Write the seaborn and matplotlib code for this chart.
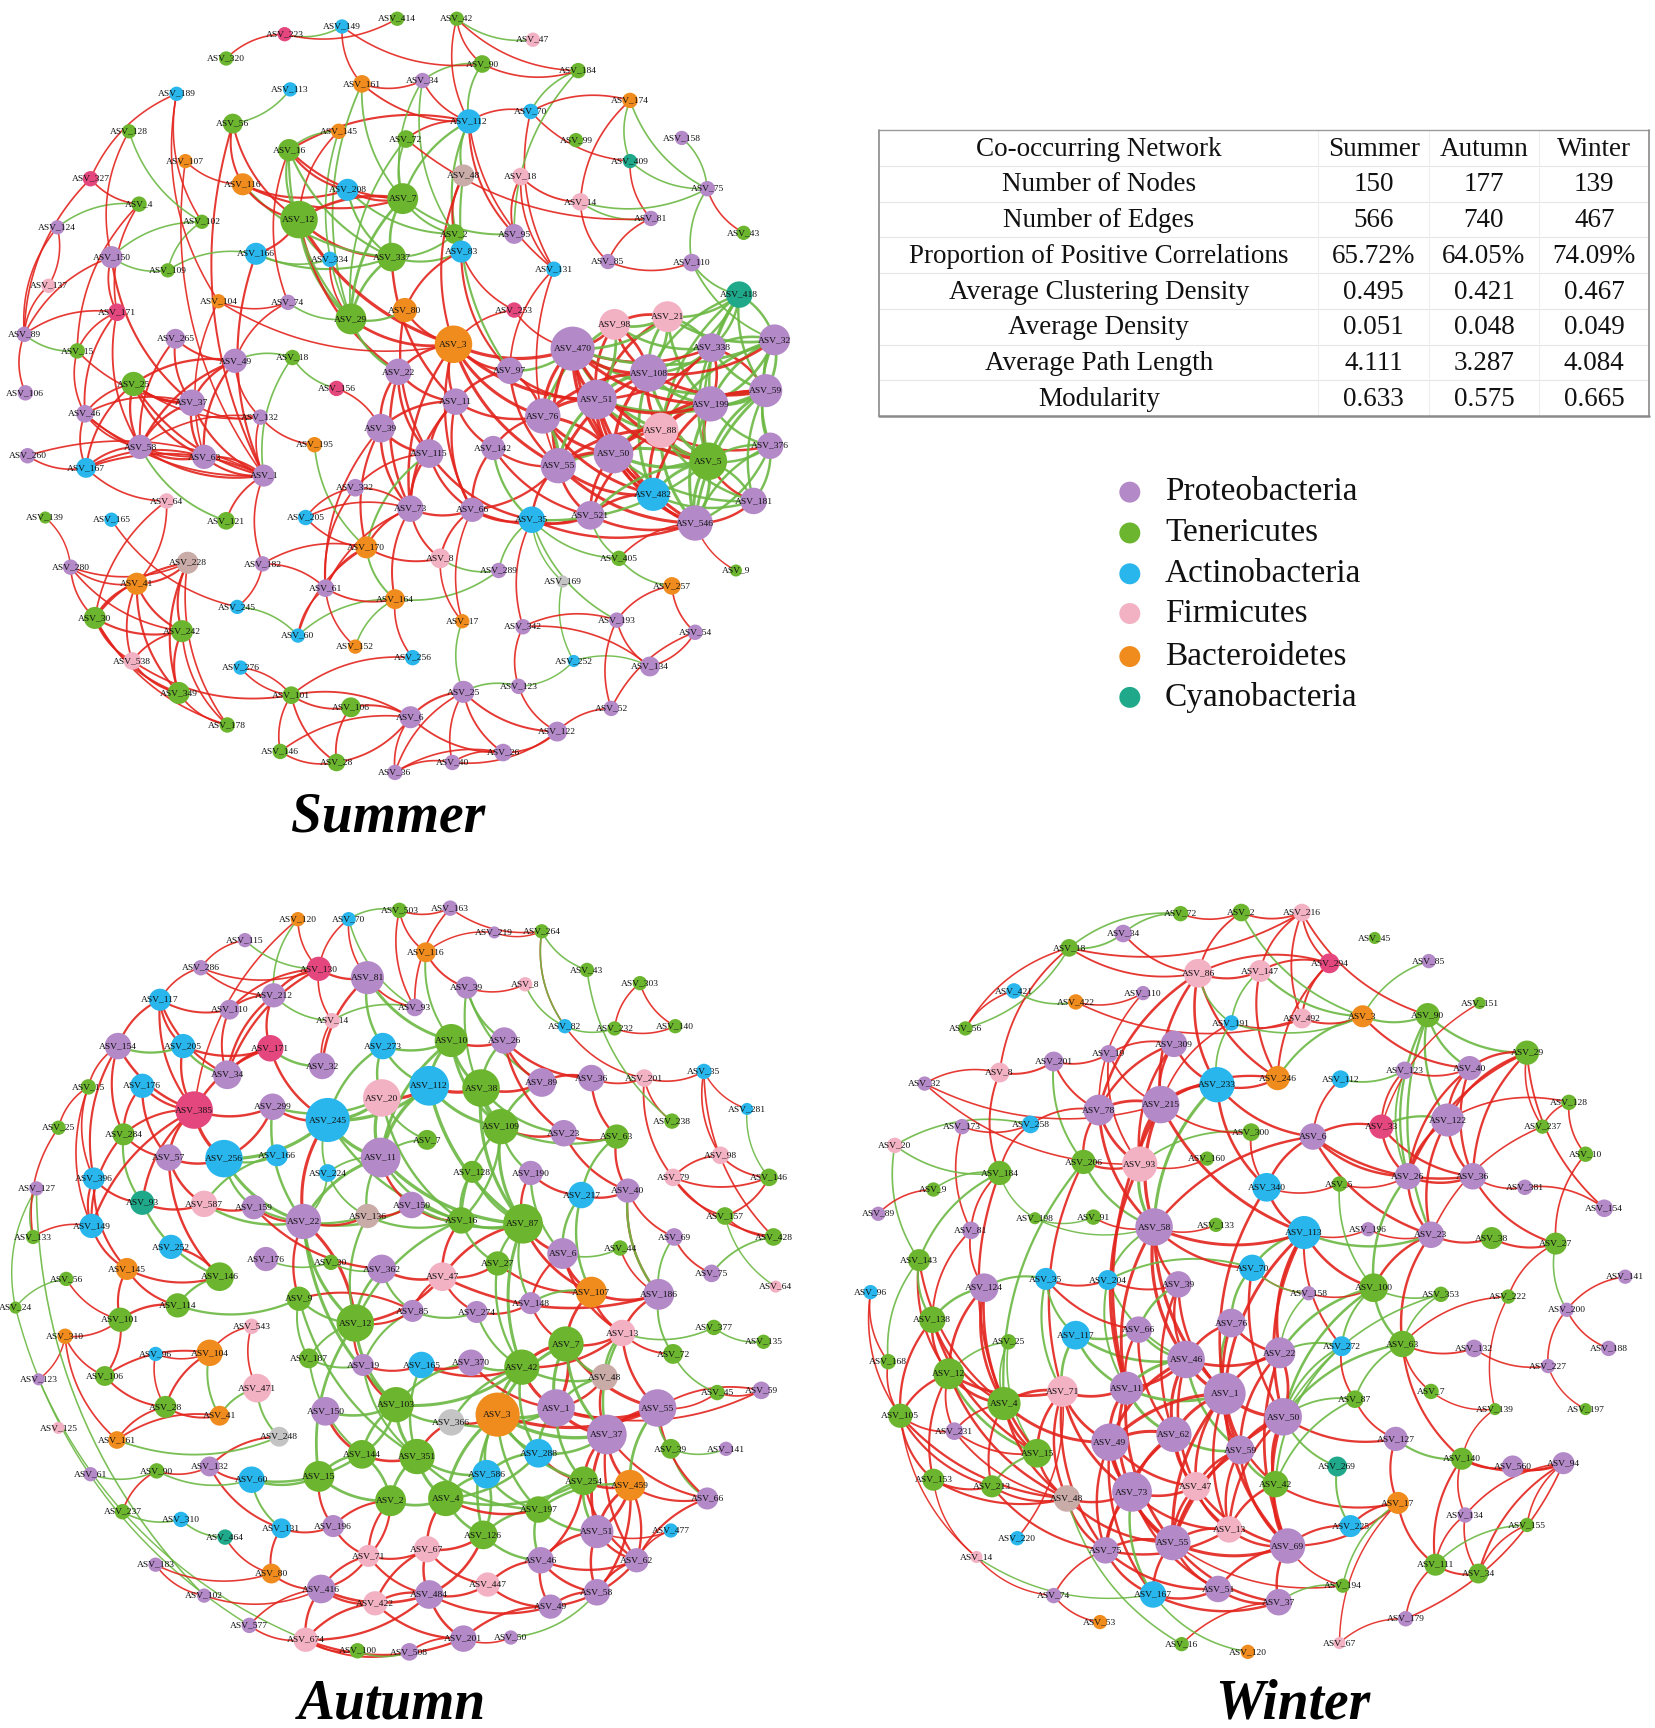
import numpy as np
import pandas as pd
import matplotlib
matplotlib.use("Agg")
import matplotlib.pyplot as plt
import seaborn as sns
from matplotlib.collections import LineCollection

sns.set_theme(style="white")
plt.rcParams['font.family'] = ['Liberation Serif', 'DejaVu Serif']

# ---------------- Summer network ----------------
SUMMER_ID = [
"414","42","223","149","47","320","90","184","113","161",
"34","189","174","70","112","56","128","145","72","99",
"158","107","16","409","327","116","48","18","208","7",
"75","4","14","12","102","81","124","2","95","43",
"166","337","334","83","150","109","131","85","110","137",
"418","104","74","171","29","80","253","98","21","89",
"265","15","3","470","338","32","49","18b","108","25",
"22","97","156","51","199","59","11","37","106","46",
"132","76","88","39","58","63","195","115","142","50",
"376","5","260","167","1","55","332","482","181","64",
"73","66","35","521","546","139","165","121","205","170",
"8","280","228","41","182","289","169","405","257","9",
"61","164","245","30","242","17","193","342","54","60",
"152","538","256","252","134","276","123","349","101","106b",
"25b","52","6","178","122","146","26","28","40","36"]
SUMMER_X = [
360,414,258,310,483,205,437,524,263,328,
383,160,571,481,425,211,117,307,368,522,
618,168,262,571,82,220,420,472,315,365,
641,126,526,271,183,590,52,412,466,674,
232,355,299,418,101,152,502,551,627,44,
670,198,261,106,318,367,466,557,605,22,
159,70,411,519,645,702,213,265,588,121,
361,462,305,541,644,694,413,174,23,77,
236,492,599,345,127,185,285,389,447,556,
698,642,25,78,239,506,322,592,683,151,
372,428,482,535,630,41,101,205,277,332,
399,64,170,124,238,452,510,561,609,667,
295,358,215,86,165,419,559,474,630,270,
322,120,374,520,589,218,470,162,264,318,
420,554,372,206,505,254,456,305,410,358]
SUMMER_Y = [
17,17,31,24,36,53,58,64,81,76,
73,85,91,101,110,112,119,119,126,127,
125,146,136,146,162,167,159,160,172,180,
171,185,183,199,201,198,206,212,212,211,
230,233,235,228,233,245,244,237,238,259,
267,273,274,283,289,281,281,294,287,303,
307,318,312,316,315,308,327,324,338,348,
337,336,352,362,366,354,364,365,356,375,
378,377,390,388,405,414,403,411,406,411,
404,418,413,424,431,422,442,448,454,454,
461,462,471,467,474,469,471,472,469,496,
506,514,510,529,511,517,527,506,531,517,
533,543,550,560,572,563,562,568,573,576,
586,599,596,599,604,605,622,628,630,641,
627,642,650,657,663,681,682,691,691,700]
SUMMER_PHYLUM = [
"T","T","M","A","F","T","T","T","A","B",
"P","A","B","A","A","T","T","B","T","T",
"P","B","T","C","M","B","R","F","A","T",
"P","T","F","T","T","P","P","T","P","T",
"A","T","A","A","P","T","A","P","P","F",
"C","B","P","M","T","B","M","F","F","P",
"P","T","B","P","P","P","P","T","P","T",
"P","P","M","P","P","P","P","P","P","P",
"P","P","F","P","P","P","B","P","P","P",
"P","T","P","A","P","P","P","A","P","F",
"P","P","A","P","P","T","A","T","A","B",
"F","P","R","B","P","P","G","T","B","T",
"P","B","A","T","T","B","P","P","P","A",
"B","F","A","A","P","A","P","T","T","T",
"P","P","P","T","P","T","P","T","P","P"]
SUMMER_SIZE = [
13,13,13,13,13,13,16,14,13,16,
14,13,14,14,22,18,13,14,16,13,
13,13,20,13,14,20,20,16,20,28,
14,14,16,34,13,14,13,18,18,13,
20,26,14,20,20,13,14,14,16,13,
24,13,14,16,28,22,14,28,28,14,
18,14,34,40,26,28,22,14,34,22,
24,24,14,36,32,30,24,24,14,16,
14,32,32,26,22,22,14,26,22,36,
24,34,14,18,20,32,16,30,24,14,
24,22,24,26,32,11,13,16,14,20,
18,14,20,20,14,14,11,14,16,11,
16,18,13,20,20,13,14,14,14,13,
13,16,14,11,18,13,14,20,16,18,
20,14,20,14,18,14,16,16,14,14]
SUMMER_POS_EDGES = """
223-414 223-320 149-161 149-90 42-90 42-184 42-112 90-184 161-34 161-112 34-112 174-70 174-14
70-112 70-409 70-131 112-72 112-16 112-95 112-131 56-12 56-116 56-1 189-327 189-104 189-102
128-150 107-1 107-116 327-4 327-89 116-12 116-208 116-7 145-12 16-208 16-7 16-74 72-81 208-7
7-12 48-2 48-3 18-14 18-95 18-131 14-85 409-81 75-43 81-85 85-110 4-15 4-171 150-89 150-171
150-37 137-89 137-124 124-89 166-12 166-1 12-337 12-3 12-22 337-11 334-29 83-253 83-97 83-80
131-55 131-97 104-3 104-74 104-63 74-49 171-15 171-46 171-89 29-3 80-3 80-115 253-3 253-470
89-106 265-49 265-37 15-46 49-25 49-37 49-132 25-46 25-37 25-58 25-63 25-1 25-167 37-58 37-63
37-1 37-132 46-58 46-167 46-1 46-63 58-1 63-1 58-63 132-1 132-195 1-260 260-167 167-64 1-121
1-182 3-470 3-22 3-11 3-97 3-73 3-66 3-76 22-11 22-39 11-39 11-115 11-73 11-142 39-115 39-73
39-156 115-73 115-332 142-66 142-55 73-66 73-170 73-61 73-205 73-332 66-35 66-8 66-521 35-521
35-546 35-342 170-8 170-182 170-61 8-17 61-164 61-60 61-182 164-256 205-170 332-61
470-108 470-51 470-50 470-55 470-76 470-98 470-338 470-199 108-88 108-59 108-32 108-50 108-98
51-50 51-199 51-5 51-76 51-482 199-338 199-88 199-5 59-88 59-338 88-50 88-482 88-376 50-55
50-482 50-521 50-76 5-181 55-482 55-521 55-35 482-546 482-521 546-181 546-9 546-405 21-98
76-97 76-142 257-193 257-54 193-134 193-342 193-52 134-54 134-342 54-52 342-123 123-122
25b-6 25b-26 25b-122 25b-40 25b-36 6-101 6-106b 6-26 6-36 6-146 26-40 26-122 26-36 40-36
40-122 101-106b 101-146 101-28 101-276 106b-28 146-28 28-6 256-101 276-101 245-182 280-41
280-30 280-242 280-228 280-139 41-228 41-30 41-242 41-349 41-538 41-64 228-30 228-242 228-178
228-349 30-242 30-538 30-349 30-178 242-349 242-538 242-178 538-349 349-178 538-101 64-30
165-245 52-122
470-5 470-482 108-55 108-76 51-338 51-546 199-482 59-50 88-55 88-521 50-546 338-88 98-108
98-51 21-51 76-482 76-50 55-546 521-546 97-51 97-55 97-11 25-132 58-167 63-167 1-167 132-58
49-63 49-58 265-58 15-37 39-170 115-66 73-8 11-66 22-115 332-205 170-60 61-152 73-164 66-17
3-55 3-51 22-73 39-61 115-35 142-521 11-76 66-55 37-46 1-63 25-37 171-58
"""
SUMMER_NEG_EDGES = """
223~149 42~47 90~34 90~112 161~7 161~29 34~7 34~2 184~70 184~95 174~409 174~75 112~48 112~83
112~7 56~113 128~102 116~337 145~16 145~29 16~12 16~337 16~29 72~7 72~29 208~337 208~2 7~29
7~2 7~337 7~95 48~97 14~75 14~81 409~75 75~110 75~158 110~418 110~32 4~124 102~109 102~150
150~109 166~334 166~337 166~109 12~334 12~29 337~29 337~83 337~2 83~2 74~29 29~80 29~22 89~15
18b~156 58~121 115~170 142~35 35~289 35~169 35~405 35~193 35~5 8~289 164~60 164~152 164~289
170~164 195~170 470~88 470~21 470~59 108~51 108~199 108~338 108~5 108~21 108~418 51~88 51~55
51~98 199~59 199~376 199~32 59~32 59~376 59~181 88~5 88~546 50~5 5~482 5~546 5~376 5~521
55~76 546~376 32~338 32~376 32~418 338~21 338~418 21~418 21~32 98~76 418~59 418~5 97~470
181~376 521~405 405~257 134~252 123~252 123~25b 169~252 17~25b 60~245 18b~49 18b~1
470~32 108~482 51~59 199~50 199~546 59~5 59~546 88~181 50~181 5~55 338~59 338~5 32~199 32~88
98~338 21~108 21~199 418~199 418~88 376~5 181~5 482~181 418~108 98~21 32~59 376~546 546~5
"""

# ---------------- Autumn network ----------------
AUTUMN_ID = [
"503","163","120","70","219","264","115","116","286","130",
"81","43","303","39","8","117","212","110","93","82",
"232","140","14","154","205","171","273","10","26","32",
"34","201","35","36","15","176","112","38","89","20",
"385","299","245","281","25","284","109","23","63","238",
"57","256","166","11","7","98","396","224","128","190",
"79","146","127","93b","217","40","587","159","22","136",
"150","16","87","157","149","133","252","6","44","69",
"428","145","176b","30","362","146b","47","27","75","56",
"107","186","64","24","114","9","101","85","274","148",
"12","13","377","310","543","135","96","104","187","19",
"165","370","42","7b","72","48","123","106","471","45",
"59","28","41","150b","103","366","3","1","55","125",
"161","37","248","144","351","288","39b","141","61","90",
"132","60","15b","586","254","459","66","2","4","197",
"237","310b","131","196","464","126","51","477","71","67",
"46","62","183","80","416","484","447","58","102","422",
"49","577","674","201b","50","100","508"]
AUTUMN_X = [
362,408,270,316,448,491,222,386,182,289,
333,532,580,423,476,145,248,208,376,512,
557,612,301,107,166,245,347,409,457,292,
206,584,638,536,80,129,389,436,491,346,
176,247,297,677,53,112,454,511,559,609,
153,203,251,345,387,653,85,297,428,481,
610,697,33,129,527,569,185,230,275,333,
373,418,474,657,83,30,155,510,562,611,
701,115,241,300,346,199,401,451,645,60,
536,597,703,14,161,271,109,374,432,481,
322,564,647,59,228,692,141,190,280,329,
382,427,473,513,610,548,35,95,233,650,
690,150,199,295,359,409,451,504,596,53,
106,550,253,328,378,488,608,658,82,142,
190,228,289,441,529,571,641,354,404,488,
111,164,255,302,204,438,541,608,334,387,
490,577,141,246,291,389,442,541,185,340,
499,226,277,420,463,324,371]
AUTUMN_Y = [
825,823,833,833,845,844,852,863,877,878,
886,879,891,895,892,906,902,915,913,930,
932,930,925,948,948,950,948,943,943,966,
974,977,971,977,985,984,984,986,981,995,
1006,1003,1015,1005,1022,1028,1021,1027,1030,1016,
1049,1050,1047,1049,1033,1047,1068,1063,1062,1063,
1067,1067,1077,1090,1083,1079,1091,1094,1107,1102,
1092,1106,1109,1102,1111,1121,1130,1136,1131,1121,
1121,1150,1141,1144,1150,1157,1157,1145,1154,1159,
1171,1173,1166,1185,1183,1177,1196,1188,1189,1181,
1199,1208,1203,1211,1202,1216,1227,1226,1231,1237,
1237,1235,1239,1218,1227,1248,1250,1247,1258,1262,
1260,1275,1283,1279,1273,1289,1282,1276,1276,1294,
1305,1300,1302,1318,1320,1317,1313,1313,1336,1333,
1329,1341,1338,1336,1342,1346,1358,1360,1358,1368,
1370,1377,1385,1383,1393,1391,1388,1387,1410,1404,
1414,1414,1418,1426,1440,1445,1436,1443,1446,1453,
1456,1473,1486,1485,1484,1496,1497]
AUTUMN_PHYLUM = [
"T","P","B","A","P","T","P","B","P","M",
"P","T","T","P","F","A","P","P","P","A",
"T","T","F","P","A","M","A","T","P","P",
"P","F","A","P","T","A","A","T","P","F",
"M","P","A","A","T","T","T","P","T","T",
"P","A","A","P","T","F","A","A","T","P",
"F","T","P","C","A","P","F","P","P","R",
"P","T","T","T","A","T","A","P","T","P",
"T","B","P","T","P","T","F","T","P","T",
"B","P","F","T","T","T","T","P","P","P",
"T","F","T","B","F","T","A","B","T","P",
"A","P","T","T","T","R","P","T","F","T",
"P","T","B","P","T","G","B","P","P","F",
"B","P","G","T","T","A","T","P","P","T",
"P","A","T","A","T","B","P","T","T","T",
"T","A","A","P","C","T","P","A","F","F",
"P","P","P","B","P","P","F","P","P","F",
"P","P","F","P","P","T","P"]
AUTUMN_SIZE = [
14,14,13,13,11,13,13,18,14,22,
30,13,13,20,13,20,22,18,16,13,
13,13,14,24,22,24,24,30,24,24,
26,16,14,24,14,22,36,34,26,34,
34,24,40,11,13,20,32,24,22,14,
24,34,20,36,18,16,20,16,20,22,
16,16,13,22,24,22,24,22,32,22,
24,24,36,16,22,13,22,28,14,16,
16,20,22,14,26,26,26,22,16,13,
28,28,11,11,22,22,22,20,20,20,
34,24,14,14,14,13,13,24,18,20,
24,24,32,32,18,24,11,18,26,14,
16,20,18,26,32,24,40,34,34,11,
16,36,18,26,32,26,18,13,13,14,
18,24,28,26,26,28,20,28,32,24,
14,14,18,20,14,26,30,13,20,24,
24,22,13,18,26,26,22,24,13,22,
22,14,22,24,13,14,16]
AUTUMN_POS_EDGES = """
503-163 503-116 120-130 70-130 70-81 163-93 163-264 219-264 219-116 115-286 286-117 286-212
286-130 130-212 130-110 130-14 130-81 130-34 81-93 81-32 116-39 39-8 303-140 303-232 232-140
82-201 117-154 117-110 117-205 117-34 117-385 212-110 212-171 212-34 110-34 14-32 154-385
154-15 154-284 154-396 205-385 205-171 171-385 171-245 10-26 26-89 26-36 26-23 36-89 36-63
36-201 201-35 201-79 201-238 35-281 35-98 35-428 98-146 98-79 79-157 79-146 79-428 157-428
157-146 15-25 15-396 15-149 176-385 176-284 176-57 385-57 385-299 385-284 385-149 385-93b
284-57 284-149 25-133 396-149 396-93b 396-145 57-256 57-587 256-299 299-245 245-22 20-112
112-38 38-89 109-23 23-63 23-40 63-40 11-150 190-87 190-217 217-40 40-69 40-186 69-75 149-133
149-145 93b-587 587-159 159-22 22-136 136-150 150-16 16-47 87-6 87-107 6-107 6-148 44-186
145-146b 145-101 145-114 146b-252 362-47 47-27 47-274 47-85 27-107 107-13 107-7b 186-13 13-72
56-101 114-101 12-85 274-148 148-7b 7b-42 7b-13 310-101 310-161 310-106 543-104 543-471 96-104
96-28 104-106 104-28 19-165 19-103 165-370 42-1 45-59 59-55 48-37 123-310 106-28 28-41 28-161
150b-144 366-3 366-351 1-55 1-37 55-37 55-66 37-459 37-254 37-51 37-62 248-132 144-351 288-254
90-132 90-237 132-60 132-131 15b-196 254-459 459-66 459-51 66-62 2-196 2-71 4-197 4-67 131-196
131-80 196-71 51-477 51-46 51-62 51-58 477-62 71-67 71-416 67-484 67-422 46-58 46-49 46-447
62-58 183-80 183-102 80-416 416-422 416-674 416-577 484-422 484-201b 484-447 447-49 58-49
102-416 422-674 49-201b 577-674 674-100 674-508 674-201b 201b-508 201b-50 464-80 120-385
503-93 264-82
12-47 12-22 85-9 41-161 106-101 1-48 1-7b 42-13 3-55 62-459 46-254 67-126 71-2 484-126 416-71
171-34 385-256 57-146b 159-362 22-9 47-186 107-186 13-55 7b-55 6-13 87-47 12-19 165-42 370-1
1-59 37-66 55-45 254-62 51-459 46-62 49-62 58-459 67-447 484-49 416-484 71-484 674-484 422-201b
"""
AUTUMN_NEG_EDGES = """
503~70 120~212 70~93 264~43 264~82 115~130 81~273 81~10 116~10 39~26 39~89 39~109 8~82 43~238
82~232 154~205 205~34 171~32 273~10 273~20 273~245 273~112 10~38 10~109 10~112 10~11 281~146
157~64 428~75 127~24 127~133 284~93b 256~166 256~245 256~159 256~22 299~20 245~20
245~112 245~224 245~11 20~11 20~7 112~11 112~109 38~109 38~23 109~63 109~190 109~87 63~217
11~224 11~136 11~22 11~16 166~587 128~16 128~87 217~6 69~186 93b~146b 587~22 22~150 22~12
16~87 16~12 87~27 87~42 6~44 146b~114 176b~30 30~362 186~72 13~377 377~135 56~24 114~9 9~12
9~187 12~187 12~103 85~274 7b~48 7b~3 104~41 187~19 370~42 42~3 42~48 72~45 48~1 471~41
471~248 150b~103 103~366 103~351 103~144 3~1 3~37 3~288 3~586 3~4 55~39b 161~248 144~15b
351~4 351~2 288~586 39b~141 61~90 90~60 60~15b 60~131 15b~2 586~4 586~197 254~197 2~4 4~126
197~126 197~46 237~310b 310b~464 100~508 50~58 24~577 123~674 127~102 39b~66 55~459 1~288
7b~1 13~48 107~148 40~186 26~38 89~109 93~14 212~14 7~11
22~224 136~16 136~12 150~87 16~27 16~109 87~148 27~42 274~42 362~12 362~85 85~19 19~351
165~351 370~103 103~42 42~366 366~1 351~586 4~288 4~254 2~144 60~144 144~103 351~197 126~586
126~46 197~51 254~51 288~37 7b~37 13~37 459~197 1~254 3~254 3~197 3~126 42~288 11~87 112~87
20~16 245~16 109~16 38~87 190~6 217~107 224~136 299~22 159~136 9~351 187~144 12~15b 22~103
"""

# ---------------- Winter network ----------------
WINTER_ID = [
"72","2","216","34","45","18","294","85","86","147",
"421","422","110","56","151","191","492","3","90","309",
"8","201","19","29","233","246","112","123","40","32",
"215","78","128","122","173","258","33","237","6","300",
"20","10","206","93","160","184","26","36","381","9",
"340","5","89","198","91","154","81","58","133","113",
"196","23","38","27","143","70","35","204","39","124",
"141","96","158","100","353","222","200","138","76","66",
"117","25","272","63","132","22","188","227","168","46",
"12","71","11","1","7","4","87","50","105","139",
"197","231","62","49","59","127","15","140","560","94",
"269","153","213","73","47","42","48","17","225","134",
"155","13","220","55","69","75","14","111","34b","194",
"74","167","51","37","179","53","16","120","67"]
WINTER_X = [
1070,1125,1180,1018,1246,969,1205,1295,1086,1142,
919,975,1036,875,1341,1116,1180,1235,1294,1064,
906,955,1005,1384,1103,1158,1215,1273,1332,838,
1052,996,1422,1312,872,934,1252,1398,1190,1134,
811,1437,982,1033,1094,906,1276,1335,1382,846,
1148,1214,796,938,991,1454,880,1046,1102,1182,
1240,1297,1352,1410,833,1135,948,1004,1068,892,
1473,789,1186,1245,1306,1367,1420,845,1116,1032,
975,914,1216,1271,1336,1160,1458,1403,805,1075,
860,963,1021,1110,1297,910,1228,1163,816,1355,
1437,865,1064,1006,1124,1265,940,1325,1371,1417,
1212,846,899,1026,1084,1156,967,1267,1224,1328,
1384,1114,922,1063,1167,1002,885,1301,1340,1217,
955,1045,1104,1159,1274,997,1071,1131,1214]
WINTER_Y = [
828,827,827,846,850,859,873,871,882,880,
898,908,900,932,909,927,923,921,920,946,
972,962,955,954,983,977,978,970,968,982,
1001,1006,999,1015,1021,1019,1021,1021,1030,1026,
1038,1046,1053,1055,1050,1063,1066,1066,1076,1078,
1076,1073,1100,1104,1103,1095,1115,1112,1110,1117,
1114,1119,1122,1127,1142,1149,1159,1160,1164,1167,
1157,1171,1172,1167,1173,1175,1187,1196,1199,1205,
1210,1216,1220,1218,1222,1226,1222,1238,1234,1232,
1245,1261,1258,1263,1261,1272,1268,1284,1283,1277,
1277,1297,1300,1307,1314,1304,1317,1322,1329,1326,
1329,1341,1347,1352,1347,1345,1358,1362,1383,1373,
1382,1386,1394,1398,1401,1405,1411,1418,1426,1437,
1446,1445,1440,1452,1467,1470,1490,1497,1489]
WINTER_PHYLUM = [
"T","T","F","P","T","T","M","P","F","F",
"A","B","P","T","T","A","F","B","T","P",
"F","P","P","T","A","B","A","P","P","P",
"P","P","T","P","P","A","M","T","P","T",
"F","T","T","F","T","T","P","P","P","T",
"A","T","P","T","T","P","P","P","T","A",
"P","P","T","T","T","A","A","A","P","P",
"P","A","P","T","T","T","P","T","P","P",
"A","T","A","T","P","P","P","P","T","P",
"T","F","P","P","T","T","T","P","T","T",
"T","P","P","P","P","P","T","T","P","P",
"C","T","T","P","F","T","R","B","A","P",
"T","F","A","P","P","P","F","T","T","T",
"P","A","P","P","P","B","T","B","F"]
WINTER_SIZE = [
14,16,16,16,11,16,18,13,26,20,
14,14,13,13,11,14,18,20,22,24,
18,18,16,22,32,22,16,16,22,13,
34,28,14,30,14,16,22,13,24,16,
14,14,22,32,13,22,24,24,14,13,
26,14,13,11,14,16,16,34,13,30,
13,24,20,20,20,24,20,18,24,26,
13,13,13,26,14,13,13,24,26,24,
26,14,18,24,16,28,14,13,14,34,
28,28,30,38,14,30,16,34,22,11,
11,16,32,34,26,22,26,20,20,20,
18,20,20,36,26,24,24,20,20,14,
13,24,13,32,32,24,11,20,18,13,
14,24,24,24,14,13,13,13,11]
WINTER_POS_EDGES = """
72-2 2-216 2-86 216-294 216-492 216-90 216-147 18-8 18-56 18-86 34-86 294-86 294-147 294-246
294-492 86-147 86-215 86-78 86-246 86-233 147-246 421-56 422-110 422-492 110-78 191-492 191-215
492-3 3-40 151-33 309-215 309-78 309-19 309-233 309-93 8-201 8-184 201-19 201-78 19-215 19-93
29-40 29-122 29-26 29-237 29-154 29-36 233-215 233-246 233-340 233-6 246-215 112-6 123-40
123-33 40-122 40-26 40-36 32-215 32-93 215-78 215-93 215-58 215-300 215-113 78-258 78-93
78-206 78-58 128-237 128-10 128-122 122-36 122-23 122-26 173-258 173-81 258-184 33-6 33-26
33-36 237-23 6-26 6-36 6-340 6-58 6-23 300-340 10-27 206-93 93-160 184-81 26-36 26-23 36-381
36-27 9-89 340-5 340-113 5-26 154-381 81-124 81-138 91-58 58-133 58-113 58-70 58-39 113-196
113-100 113-22 196-23 23-38 23-100 23-63 38-27 27-222 143-12 70-158 35-204 35-66 204-39 39-46
124-12 124-4 141-200 96-105 96-168 158-100 222-63 222-139 200-188 200-227 138-12 138-105 138-4
76-46 76-22 66-11 272-87 63-132 63-7 63-140 132-227 227-197 168-105 46-1 46-22 46-62 12-4
12-231 12-105 12-153 71-4 71-11 71-48 71-75 11-49 1-50 1-62 1-59 1-49 1-55 7-139 4-15 4-231
4-48 4-213 87-127 50-22 50-59 50-69 50-42 105-231 105-153 105-213 105-14 139-140 231-15 62-49
62-73 62-47 49-73 49-75 49-55 59-13 59-55 127-17 15-48 140-560 140-94 140-134 140-111 560-94
94-134 94-155 94-34b 153-213 153-14 213-48 73-47 73-55 73-75 73-13 47-13 47-55 47-69 42-69
42-17 48-75 48-55 17-225 17-111 17-67 225-69 134-111 134-34b 155-34b 13-69 13-55 220-71 55-69
55-75 55-167 55-51 55-37 69-37 69-51 69-194 75-74 75-167 75-51 14-74 111-34b 111-179 74-53
167-51 51-37 37-16 179-67 179-94 8-32 18-216 11-46 22-1 50-127 113-272
71-49 71-73 71-15 4-49 12-71 12-48 105-48 153-48 48-73 49-47 62-13 1-13 1-69 1-47 50-13 50-55
46-49 11-73 59-69 59-47 42-13 22-59 22-69 75-13 167-37 55-194 73-51 49-167 69-17 1-42 46-47
11-55 62-75 76-59 66-62 39-62 39-1 58-46 58-1 58-11 113-1 113-50 70-50 340-1 215-11 93-11
206-71 184-4 143-4 138-15 124-15 231-48 213-75
"""
WINTER_NEG_EDGES = """
72~18 72~34 2~3 18~34 85~3 86~191 147~3 147~191 421~422 191~233 191~3 3~90 90~29 90~40 90~122
90~26 90~23 201~206 112~123 123~26 122~33 258~20 300~93 20~184 20~143 206~58 93~58 184~9
184~198 184~143 26~100 198~91 198~58 58~204 113~23 27~200 143~138 70~204 70~76 70~158 35~124
35~117 39~66 124~138 100~63 100~353 100~272 353~63 76~1 66~46 117~71 117~11 117~46 25~4 25~12
272~50 63~87 46~11 46~59 12~15 11~1 11~62 87~50 50~269 62~59 59~42 127~140 15~213 269~225
73~167 48~16 17~194 155~111 14~167 194~37 167~120 3~246 56~18 143~168 233~58 5~100 113~70
206~4 117~66 204~46 35~71 25~15 204~11 272~42 63~50 87~42 100~50 100~22 272~22 158~22 353~50
"""

# ---------------- Table and legend ----------------
TABLE_HEADER = ["Co-occurring Network", "Summer", "Autumn", "Winter"]
TABLE_METRICS = ["Number of Nodes", "Number of Edges", "Proportion of Positive Correlations",
                 "Average Clustering Density", "Average Density", "Average Path Length", "Modularity"]
SUMMER_STATS = ["150", "566", "65.72%", "0.495", "0.051", "4.111", "0.633"]
AUTUMN_STATS = ["177", "740", "64.05%", "0.421", "0.048", "3.287", "0.575"]
WINTER_STATS = ["139", "467", "74.09%", "0.467", "0.049", "4.084", "0.665"]

LEGEND_CODES = ["P", "T", "A", "F", "B", "C"]
LEGEND_NAMES = ["Proteobacteria", "Tenericutes", "Actinobacteria", "Firmicutes",
                "Bacteroidetes", "Cyanobacteria"]

PHYLUM_COLORS = {"P": "#B389C8", "T": "#6CB52F", "A": "#28B6EC", "F": "#F3B1C4",
                 "B": "#F08C1E", "C": "#1FA98A", "M": "#E4477D", "R": "#C9ABA8",
                 "G": "#C4C4C4"}
POS_COLOR = "#E3241D"
NEG_COLOR = "#6CB844"

# ---------------- figure ----------------
W, H = 1500.0, 1566.0
fig = plt.figure(figsize=(16.55, 17.28), dpi=100)
ax = fig.add_axes([0, 0, 1, 1])
PT = (1655.0 / W) * 0.72  # points per layout unit

panels = [
    ("Summer", SUMMER_ID, SUMMER_X, SUMMER_Y, SUMMER_PHYLUM, SUMMER_SIZE, SUMMER_POS_EDGES, SUMMER_NEG_EDGES),
    ("Autumn", AUTUMN_ID, AUTUMN_X, AUTUMN_Y, AUTUMN_PHYLUM, AUTUMN_SIZE, AUTUMN_POS_EDGES, AUTUMN_NEG_EDGES),
    ("Winter", WINTER_ID, WINTER_X, WINTER_Y, WINTER_PHYLUM, WINTER_SIZE, WINTER_POS_EDGES, WINTER_NEG_EDGES),
]


def curve(p0, p2, bend=0.2, n=30):
    p0 = np.asarray(p0, float)
    p2 = np.asarray(p2, float)
    d = p2 - p0
    perp = np.array([-d[1], d[0]])
    p1 = (p0 + p2) / 2 + bend * perp
    t = np.linspace(0, 1, n)[:, None]
    return (1 - t) ** 2 * p0 + 2 * (1 - t) * t * p1 + t ** 2 * p2


frames = []
segs, cols, lws = [], [], []
for name, ids, xs, ys, ph, sz, pos_e, neg_e in panels:
    assert len(ids) == len(xs) == len(ys) == len(ph) == len(sz), name
    frames.append(pd.DataFrame({"panel": name, "id": ids, "x": xs, "y": ys,
                                "phylum": ph, "size": sz}))
    posd = dict(zip(ids, zip(xs, ys)))
    sized = dict(zip(ids, sz))
    for text, sep, col in ((neg_e, "~", NEG_COLOR), (pos_e, "-", POS_COLOR)):
        for spec in text.split():
            a, b = spec.split(sep)
            if a not in posd or b not in posd:
                continue
            segs.append(curve(posd[a], posd[b]))
            cols.append(col)
            lws.append(0.45 + 0.055 * min(sized[a], sized[b]))

# interleave so neither colour fully covers the other
order = np.argsort([(i * 7919) % len(segs) for i in range(len(segs))])
segs = [segs[i] for i in order]
cols = [cols[i] for i in order]
lws = [lws[i] for i in order]
ax.add_collection(LineCollection(segs, colors=cols, linewidths=lws, alpha=0.9, zorder=1))

nodes = pd.concat(frames, ignore_index=True)
nodes["area"] = (nodes["size"] * PT) ** 2
amin, amax = nodes["area"].min(), nodes["area"].max()
sns.scatterplot(data=nodes, x="x", y="y", hue="phylum", palette=PHYLUM_COLORS,
                size="area", sizes=(amin, amax), size_norm=(amin, amax),
                linewidth=0, legend=False, ax=ax, zorder=3)

for _, r in nodes.iterrows():
    ax.text(r["x"], r["y"], "ASV_" + r["id"].rstrip("b"), fontsize=6.8,
            ha="center", va="center", color="#111111", zorder=4)

# panel titles
for title, tx, ty in (("Summer", 352, 741), ("Autumn", 355, 1545), ("Winter", 1172, 1545)):
    ax.text(tx, ty, title, fontsize=40, fontweight="bold", fontstyle="italic",
            ha="center", va="center", color="black")

# table
col_edges = [797, 1195, 1295, 1395, 1495]
row_top, row_h = 118, 32.4
nrows = 1 + len(TABLE_METRICS)
rows = [TABLE_HEADER] + [[m, s, a, w] for m, s, a, w in
                         zip(TABLE_METRICS, SUMMER_STATS, AUTUMN_STATS, WINTER_STATS)]
for i, row in enumerate(rows):
    yc = row_top + row_h * (i + 0.5)
    for j, cell in enumerate(row):
        xc = (col_edges[j] + col_edges[j + 1]) / 2
        ax.text(xc, yc + 1, cell, fontsize=19.5, ha="center", va="center", color="#111111")
for i in range(1, nrows):
    yy = row_top + row_h * i
    ax.plot([col_edges[0], col_edges[-1]], [yy, yy], color="#E6E6E6", lw=0.8, zorder=0)
for xx in col_edges[1:-1]:
    ax.plot([xx, xx], [row_top, row_top + row_h * nrows], color="#EDEDED", lw=0.8, zorder=0)
yb = row_top + row_h * nrows
ax.plot([col_edges[0], col_edges[-1]], [row_top, row_top], color="#9A9A9A", lw=1.0)
ax.plot([col_edges[0], col_edges[-1]], [yb, yb], color="#8A8A8A", lw=1.8)
ax.plot([col_edges[0], col_edges[0]], [row_top, yb], color="#8A8A8A", lw=1.2)
ax.plot([col_edges[-1], col_edges[-1]], [row_top, yb], color="#8A8A8A", lw=1.2)

# legend
leg = pd.DataFrame({"code": LEGEND_CODES, "name": LEGEND_NAMES,
                    "x": [1024] * 6, "y": [446, 483, 520, 556, 595, 632]})
sns.scatterplot(data=leg, x="x", y="y", hue="code", palette=PHYLUM_COLORS,
                s=(19 * PT) ** 2, linewidth=0, legend=False, ax=ax, zorder=3)
for _, r in leg.iterrows():
    ax.text(r["x"] + 32, r["y"], r["name"], fontsize=24, ha="left", va="center", color="#111111")

ax.set_xlim(0, W)
ax.set_ylim(H, 0)
ax.set_xlabel("")
ax.set_ylabel("")
ax.axis("off")
fig.savefig("out.png", dpi=100, facecolor="white")
